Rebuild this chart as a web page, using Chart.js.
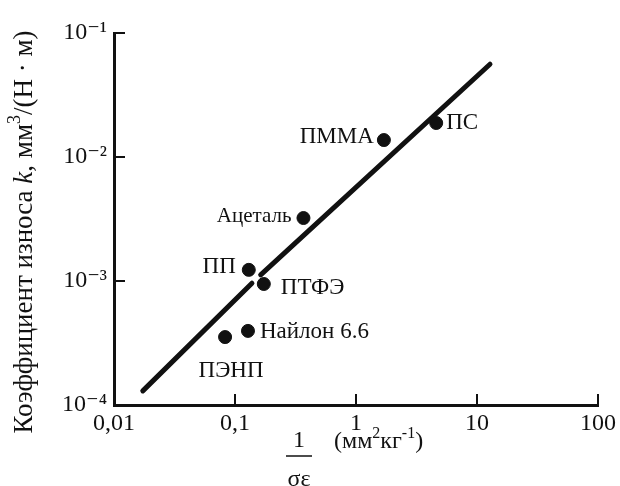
<!DOCTYPE html>
<html><head><meta charset="utf-8">
<script src="https://cdn.jsdelivr.net/npm/chart.js@4"></script>
<style>html,body{margin:0;padding:0;background:#fff}#wrap{width:620px;height:486px}</style>
</head><body><div id="wrap"><canvas id="c" width="620" height="486"></canvas></div>
<script>
const materials = ['ПС','ПММА','Ацеталь','ПП','ПТФЭ','Найлон 6.6','ПЭНП'];
const invSigmaEps = [4.6, 1.70, 0.368, 0.130, 0.173, 0.128, 0.0828];
const wearK = [0.0188, 0.0137, 0.00322, 0.00123, 0.000946, 0.000396, 0.000353];
const fitLowX = [0.0173, 0.138];
const fitLowY = [0.000130, 0.00096];
const fitHighX = [0.163, 12.8];
const fitHighY = [0.00112, 0.0560];
const xTicks = [0.01, 0.1, 1, 10, 100];
const xTickLabels = ['0,01', '0,1', '1', '10', '100'];
const yTicks = [0.0001, 0.001, 0.01, 0.1];
const yTickLabels = ['10⁻⁴', '10⁻³', '10⁻²', '10⁻¹'];

// label placement (style only)
const labelPlace = [
  {dx: 10, dy: 0, align: 'left', size: 23},
  {dx: -10, dy: -3, align: 'right', size: 23},
  {dx: -12, dy: -2, align: 'right', size: 21},
  {dx: -13, dy: -3, align: 'right', size: 23},
  {dx: 17, dy: 4, align: 'left', size: 23},
  {dx: 12, dy: 1, align: 'left', size: 23},
  {dx: 6, dy: 34, align: 'center', size: 23}
];

const SERIF = '"Liberation Serif", "DejaVu Serif", serif';
const INK = '#111';

const toPts = (xs, ys) => xs.map((x, i) => ({x: x, y: ys[i]}));

const decor = {
  id: 'decor',
  afterDatasetsDraw(chart) {
    const ctx = chart.ctx;
    const xs = chart.scales.x, ys = chart.scales.y;
    ctx.save();
    ctx.strokeStyle = INK;
    ctx.lineWidth = 2;
    xTicks.slice(1).forEach(v => {
      const px = xs.getPixelForValue(v);
      ctx.beginPath(); ctx.moveTo(px, ys.bottom); ctx.lineTo(px, ys.bottom - 11); ctx.stroke();
    });
    yTicks.slice(1).forEach(v => {
      const py = ys.getPixelForValue(v);
      ctx.beginPath(); ctx.moveTo(xs.left, py); ctx.lineTo(xs.left + 11, py); ctx.stroke();
    });
    ctx.fillStyle = INK;
    ctx.textBaseline = 'middle';
    const meta = chart.getDatasetMeta(0);
    meta.data.forEach((el, i) => {
      const p = labelPlace[i];
      ctx.font = p.size + 'px ' + SERIF;
      ctx.textAlign = p.align;
      ctx.fillText(materials[i], el.x + p.dx, el.y + p.dy);
    });
    const segs = [
      {t: 'Коэффициент износа ', f: '27px ' + SERIF, dy: 0},
      {t: 'k', f: 'italic 27px ' + SERIF, dy: 0},
      {t: ', мм', f: '27px ' + SERIF, dy: 0},
      {t: '3', f: '18px ' + SERIF, dy: -10},
      {t: '/(Н · м)', f: '27px ' + SERIF, dy: 0}
    ];
    let total = 0;
    segs.forEach(s => { ctx.font = s.f; s.w = ctx.measureText(s.t).width; total += s.w; });
    ctx.save();
    ctx.translate(25, 232);
    ctx.rotate(-Math.PI / 2);
    ctx.textAlign = 'left';
    ctx.textBaseline = 'middle';
    let cx = -total / 2;
    segs.forEach(s => { ctx.font = s.f; ctx.fillText(s.t, cx, s.dy); cx += s.w; });
    ctx.restore();
    ctx.textAlign = 'center';
    ctx.font = '24px ' + SERIF;
    ctx.fillText('1', 299, 441);
    ctx.lineWidth = 1.5;
    ctx.beginPath(); ctx.moveTo(286, 456); ctx.lineTo(312, 456); ctx.stroke();
    ctx.fillText('σε', 299, 480);
    const u = [
      {t: '(мм', f: '24px ' + SERIF, dy: 0},
      {t: '2', f: '16px ' + SERIF, dy: -8},
      {t: 'кг', f: '24px ' + SERIF, dy: 0},
      {t: '-1', f: '16px ' + SERIF, dy: -8},
      {t: ')', f: '24px ' + SERIF, dy: 0}
    ];
    ctx.textAlign = 'left';
    let ux = 334;
    u.forEach(s => { ctx.font = s.f; ctx.fillText(s.t, ux, 442 + s.dy); ux += ctx.measureText(s.t).width; });
    ctx.restore();
  }
};

new Chart(document.getElementById('c'), {
  type: 'scatter',
  data: {
    datasets: [
      {label: 'Материалы', data: toPts(invSigmaEps, wearK), pointRadius: 6.5, pointHoverRadius: 6.5,
       backgroundColor: INK, borderColor: INK, showLine: false},
      {label: 'fit1', data: toPts(fitLowX, fitLowY), showLine: true, pointRadius: 0,
       borderColor: INK, borderWidth: 5, borderCapStyle: 'round'},
      {label: 'fit2', data: toPts(fitHighX, fitHighY), showLine: true, pointRadius: 0,
       borderColor: INK, borderWidth: 5, borderCapStyle: 'round'}
    ]
  },
  options: {
    responsive: false,
    animation: false,
    events: [],
    layout: {padding: {top: 33, right: 18, bottom: 0, left: 0}},
    plugins: {legend: {display: false}, tooltip: {enabled: false}, title: {display: false}},
    scales: {
      x: {
        type: 'logarithmic', min: 0.01, max: 100,
        afterBuildTicks: s => { s.ticks = xTicks.map(v => ({value: v})); },
        afterFit: s => { s.height = 81; },
        ticks: {
          callback: (v) => { const i = xTicks.indexOf(v); return i >= 0 ? xTickLabels[i] : ''; },
          font: {family: SERIF, size: 24}, color: INK, padding: 4, maxRotation: 0, autoSkip: false
        },
        grid: {display: true, drawOnChartArea: false, drawTicks: false},
        border: {display: true, color: INK, width: 3}
      },
      y: {
        type: 'logarithmic', min: 0.0001, max: 0.1,
        afterBuildTicks: s => { s.ticks = yTicks.map(v => ({value: v})); },
        afterFit: s => { s.width = 114; },
        ticks: {
          callback: (v) => { const i = yTicks.findIndex(t => Math.abs(t - v) / t < 1e-6); return i >= 0 ? yTickLabels[i] : ''; },
          font: {family: SERIF, size: 24}, color: INK, padding: 7, autoSkip: false
        },
        grid: {display: true, drawOnChartArea: false, drawTicks: false},
        border: {display: true, color: INK, width: 3}
      }
    }
  },
  plugins: [decor]
});
</script>
</body></html>
